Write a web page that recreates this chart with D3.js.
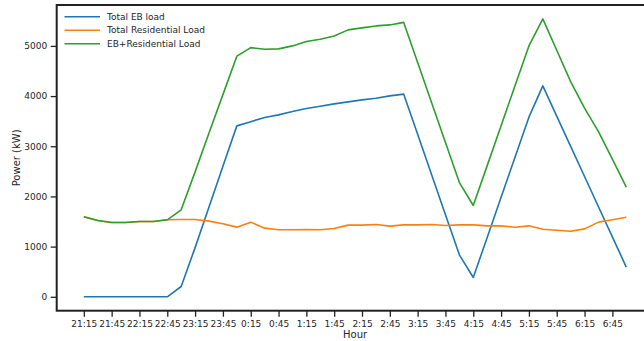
<!DOCTYPE html>
<html>
<head>
<meta charset="utf-8">
<script src="https://cdn.jsdelivr.net/npm/d3@7"></script>
<style>
  html, body { margin: 0; padding: 0; background: #fff; }
  svg { display: block; font-family: "DejaVu Sans", sans-serif; }
</style>
</head>
<body>
<svg id="chart" width="644" height="341"></svg>
<script>
// Quarter-hour time stamps through the night
const hours = [
  "21:15","21:30","21:45","22:00","22:15","22:30","22:45","23:00",
  "23:15","23:30","23:45","0:00","0:15","0:30","0:45","1:00",
  "1:15","1:30","1:45","2:00","2:15","2:30","2:45","3:00",
  "3:15","3:30","3:45","4:00","4:15","4:30","4:45","5:00",
  "5:15","5:30","5:45","6:00","6:15","6:30","6:45","7:00"
];

// Tick labels shown along the hour axis
const tickLabels = [
  "21:15","21:45","22:15","22:45","23:15","23:45","0:15","0:45","1:15","1:45",
  "2:15","2:45","3:15","3:45","4:15","4:45","5:15","5:45","6:15","6:45"
];

// Power in kW
const ebLoad = [
  0, 0, 0, 0, 0, 0, 0, 205,
  980, 1790, 2600, 3406, 3490, 3572, 3625, 3691,
  3751, 3798, 3845, 3884, 3924, 3958, 4004, 4038,
  3238, 2437, 1637, 837, 385, 1184, 1983, 2781,
  3580, 4203, 3601, 2999, 2397, 1795, 1193, 592
];

const residentialLoad = [
  1594, 1520, 1480, 1480, 1500, 1500, 1534, 1540,
  1540, 1508, 1455, 1388, 1488, 1368, 1335, 1335,
  1341, 1335, 1361, 1428, 1428, 1441, 1408, 1434,
  1434, 1441, 1421, 1434, 1434, 1414, 1414, 1385,
  1414, 1345, 1325, 1305, 1354, 1488, 1537, 1587
];

const totalLoad = [
  1594, 1520, 1480, 1480, 1500, 1500, 1534, 1733,
  2490, 3264, 4029, 4795, 4966, 4934, 4940, 5000,
  5086, 5133, 5199, 5319, 5359, 5398, 5418, 5468,
  4667, 3870, 3074, 2277, 1819, 2614, 3409, 4205,
  5000, 5538, 4914, 4289, 3759, 3293, 2743, 2185
];

const seriesNames = ["Total EB load", "Total Residential Load", "EB+Residential Load"];
const seriesColors = ["#1f77b4", "#ff7f0e", "#2ca02c"];
const seriesValues = [ebLoad, residentialLoad, totalLoad];
const yTicks = [0, 1000, 2000, 3000, 4000, 5000];

const svg = d3.select("#chart");
const plot = { left: 56.7, right: 653.4, top: 5, bottom: 310.7 };
const textColor = "#262626";
const spineColor = "#222222";

// Index-based x scale with a 5% margin on each side
const n = hours.length;
const xPad = (n - 1) * 0.05;
const x = d3.scaleLinear()
  .domain([-xPad, n - 1 + xPad])
  .range([plot.left, plot.right]);

const yMax = d3.max(seriesValues.flat());
const y = d3.scaleLinear()
  .domain([-0.05 * yMax, 1.05 * yMax])
  .range([plot.bottom, plot.top]);

// Series lines
const line = d3.line()
  .x((d, i) => x(i))
  .y(d => y(d));

seriesValues.forEach((vals, k) => {
  svg.append("path")
    .datum(vals)
    .attr("fill", "none")
    .attr("stroke", seriesColors[k])
    .attr("stroke-width", 1.6)
    .attr("stroke-linejoin", "round")
    .attr("d", line);
});

// Frame
svg.append("rect")
  .attr("x", plot.left)
  .attr("y", plot.top)
  .attr("width", plot.right - plot.left)
  .attr("height", plot.bottom - plot.top)
  .attr("fill", "none")
  .attr("stroke", spineColor)
  .attr("stroke-width", 2);

// X axis
const tickIdx = tickLabels.map(t => hours.indexOf(t));
const xAxis = d3.axisBottom(x)
  .tickValues(tickIdx)
  .tickFormat(i => hours[i])
  .tickSize(6)
  .tickSizeOuter(0)
  .tickPadding(3.5);

const gx = svg.append("g")
  .attr("transform", `translate(0,${plot.bottom})`)
  .call(xAxis);
gx.select(".domain").remove();
gx.selectAll(".tick line").attr("stroke", spineColor).attr("stroke-width", 1.3);
gx.selectAll(".tick text")
  .attr("fill", textColor)
  .style("font-size", "9px")
  .style("font-family", "DejaVu Sans, sans-serif");

// Y axis
const yAxis = d3.axisLeft(y)
  .tickValues(yTicks)
  .tickFormat(d3.format("d"))
  .tickSize(6)
  .tickSizeOuter(0)
  .tickPadding(3.5);

const gy = svg.append("g")
  .attr("transform", `translate(${plot.left},0)`)
  .call(yAxis);
gy.select(".domain").remove();
gy.selectAll(".tick line").attr("stroke", spineColor).attr("stroke-width", 1.3);
gy.selectAll(".tick text")
  .attr("fill", textColor)
  .style("font-size", "9px")
  .style("font-family", "DejaVu Sans, sans-serif");

// Axis titles
svg.append("text")
  .attr("x", (plot.left + plot.right) / 2)
  .attr("y", 337.5)
  .attr("text-anchor", "middle")
  .attr("fill", textColor)
  .style("font-size", "10px")
  .text("Hour");

svg.append("text")
  .attr("transform", `translate(20,${(plot.top + plot.bottom) / 2}) rotate(-90)`)
  .attr("text-anchor", "middle")
  .attr("fill", textColor)
  .style("font-size", "10px")
  .text("Power (kW)");

// Legend
const legend = svg.append("g").attr("transform", "translate(64.5,16.7)");
seriesNames.forEach((name, k) => {
  const row = legend.append("g").attr("transform", `translate(0,${k * 13.5})`);
  row.append("line")
    .attr("x1", 0).attr("x2", 35.5)
    .attr("y1", 0).attr("y2", 0)
    .attr("stroke", seriesColors[k])
    .attr("stroke-width", 1.6);
  row.append("text")
    .attr("x", 42.5)
    .attr("y", 3.2)
    .attr("fill", textColor)
    .style("font-size", "9px")
    .text(name);
});
</script>
</body>
</html>
